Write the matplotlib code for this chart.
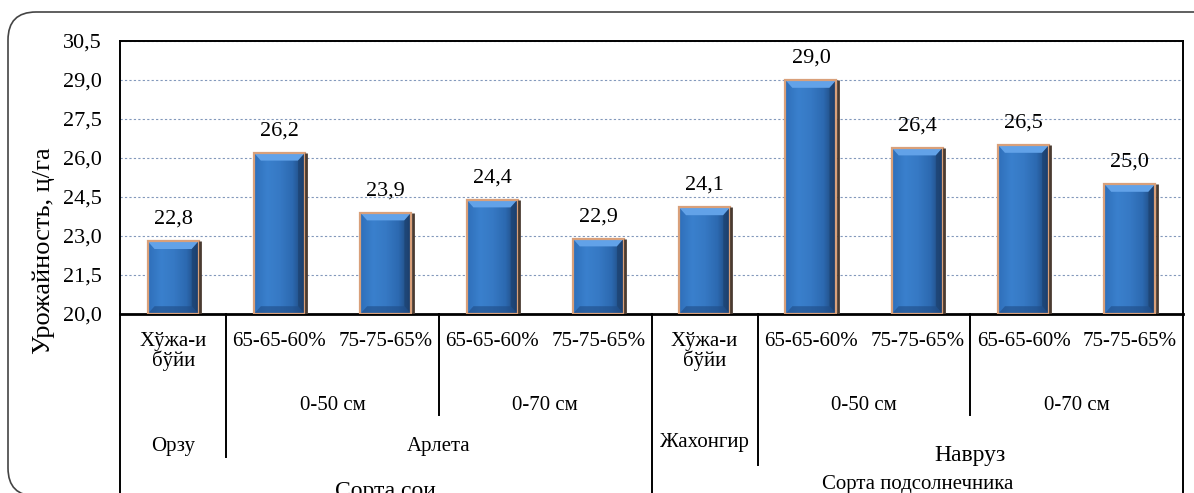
"""Урожайность сортов сои и подсолнечника по вариантам опыта."""
import numpy as np
import matplotlib
matplotlib.use("Agg")
import matplotlib.pyplot as plt
from matplotlib.patches import Polygon, FancyBboxPatch, Rectangle
from matplotlib.colors import LinearSegmentedColormap
from matplotlib.transforms import blended_transform_factory

plt.rcParams["font.family"] = ["Liberation Serif", "DejaVu Serif"]

# значения по вариантам
urozhai = [22.8, 26.2, 23.9, 24.4, 22.9, 24.1, 29.0, 26.4, 26.5, 25.0]
rezhim = ["Хўжа-и\nбўйи", "65-65-60%", "75-75-65%", "65-65-60%", "75-75-65%",
          "Хўжа-и\nбўйи", "65-65-60%", "75-75-65%", "65-65-60%", "75-75-65%"]
shirina = [("0-50 см", 1, 2), ("0-70 см", 3, 4), ("0-50 см", 6, 7), ("0-70 см", 8, 9)]
sorta = [("Орзу", 0, 0), ("Арлета", 1, 4), ("Жахонгир", 5, 5), ("Навруз", 6, 9)]
kultura = [("Сорта сои", 0, 4), ("Сорта подсолнечника", 5, 9)]

AZUL_CLARO = "#62a2e8"
COBRE = "#d9a07a"
SOMBRA = "#4a3b31"
grad = LinearSegmentedColormap.from_list(
    "barra", ["#2f6fba", "#3a80cd", "#3679c4", "#2c69b0", "#1c3f6c"])

W, H = 1194, 493
fig = plt.figure(figsize=(W / 100, H / 100), dpi=100)
fig.patch.set_facecolor("white")

# рамка со скруглёнными углами
ramka = FancyBboxPatch((0.08, -0.03), 12.15, 4.84, boxstyle="round,pad=0,rounding_size=0.28",
                       transform=fig.dpi_scale_trans, fill=False, ec="#444444", lw=1.2)
fig.patches.append(ramka)

ax = fig.add_axes([120 / W, (H - 314) / H, 1063 / W, 273 / H])
x = np.arange(len(urozhai))
ax.set_xlim(-0.5, len(urozhai) - 0.5)
ax.set_ylim(20, 30.5)
yt = np.arange(20, 30.6, 1.5)
ax.set_yticks(yt)
ax.set_yticklabels([f"{v:.1f}".replace(".", ",") for v in yt], fontsize=16)
ax.set_xticks([])
ax.tick_params(axis="y", length=0, pad=13)
ax.grid(axis="y", color="#8298bb", ls=(0, (2, 2)), lw=0.8)
ax.set_axisbelow(True)
for s in ax.spines.values():
    s.set_color("black")
    s.set_linewidth(1.4)
ax.spines["bottom"].set_linewidth(2)
ax.set_ylabel("Урожайность, ц/га", fontsize=19)
ax.yaxis.set_label_coords(-0.061, (314 - 251) / 273)

bw = 0.48
bx, by = 0.065, 0.3
rampa = np.linspace(0, 1, 64).reshape(1, -1)
for xi, v in zip(x, urozhai):
    x0, x1 = xi - bw / 2, xi + bw / 2
    b, t = 20, v
    im = ax.imshow(rampa, cmap=grad, aspect="auto", extent=(x0, x1, b, t), zorder=2,
                   interpolation="bilinear")
    im.set_clip_path(Rectangle((x0, b), bw, t - b, transform=ax.transData))
    ax.add_patch(Polygon([(x0, t), (x1, t), (x1 - bx, t - by), (x0 + bx, t - by)],
                         closed=True, fc=AZUL_CLARO, ec="none", zorder=3))
    ax.add_patch(Polygon([(x1, t), (x1, b), (x1 - bx, b + by), (x1 - bx, t - by)],
                         closed=True, fc="#1b3d68", ec="none", alpha=0.55, zorder=3))
    ax.add_patch(Polygon([(x0, b), (x1, b), (x1 - bx, b + by), (x0 + bx, b + by)],
                         closed=True, fc="#1f4c86", ec="none", alpha=0.6, zorder=3))
    ax.add_patch(Rectangle((x0, b), bw, t - b, fill=False, ec=COBRE, lw=1.6, zorder=4))
    ax.plot([x1 + 0.012, x1 + 0.012], [b, t], color=SOMBRA, lw=2, zorder=4, solid_capstyle="butt")
    ax.annotate(f"{v:.1f}".replace(".", ","), (xi, v), xytext=(0, 9), textcoords="offset points",
                ha="center", va="bottom", fontsize=16)

# таблица подписей под осью
tr = blended_transform_factory(ax.transData, ax.transAxes)


def ay(px):
    return (314 - px) / 273


rebra = [(-0.5, 500), (0.5, 457), (2.5, 415), (4.5, 500), (5.5, 465), (7.5, 415), (9.5, 500)]
for xr, yend in rebra:
    ax.plot([xr, xr], [0, ay(yend)], color="black", lw=1.4, transform=tr, clip_on=False)

for xi, lab in zip(x, rezhim):
    ax.text(xi, ay(332), lab, transform=tr, ha="center", va="top", fontsize=15, linespacing=0.95)
for lab, a, b in shirina:
    ax.text((a + b) / 2, ay(406), lab, transform=tr, ha="center", va="center", fontsize=15)
for lab, a, b in sorta:
    yy, fs = (455, 17) if lab == "Навруз" else ((442, 15) if lab == "Жахонгир" else (446, 15))
    ax.text((a + b) / 2, ay(yy), lab, transform=tr, ha="center", va="center", fontsize=fs)
ax.text(sum(kultura[0][1:]) / 2, ay(492), kultura[0][0], transform=tr, ha="center", va="center", fontsize=17)
ax.text(sum(kultura[1][1:]) / 2, ay(484), kultura[1][0], transform=tr, ha="center", va="center", fontsize=15)

fig.savefig("out.png", dpi=100)
